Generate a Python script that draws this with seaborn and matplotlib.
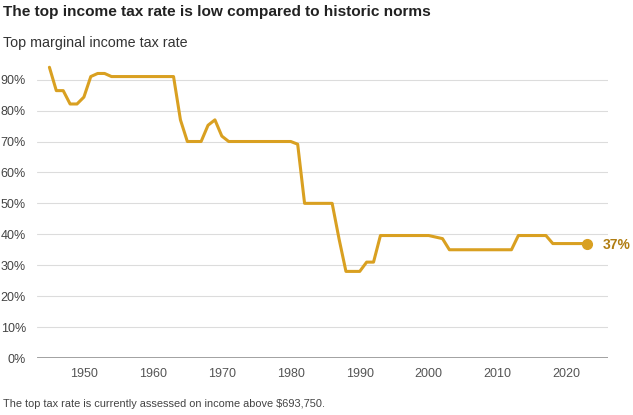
import matplotlib
matplotlib.use("Agg")
import matplotlib.pyplot as plt
import seaborn as sns
import pandas as pd

years = list(range(1945, 2024))
rates = [94, 86.45, 86.45, 82.13, 82.13, 84.36, 91, 92, 92, 91,
         91, 91, 91, 91, 91, 91, 91, 91, 91, 77,
         70, 70, 70, 75.25, 77, 71.75, 70, 70, 70, 70,
         70, 70, 70, 70, 70, 70, 69.125, 50, 50, 50,
         50, 50, 38.5, 28, 28, 28, 31, 31, 39.6, 39.6,
         39.6, 39.6, 39.6, 39.6, 39.6, 39.6, 39.1, 38.6, 35, 35,
         35, 35, 35, 35, 35, 35, 35, 35, 39.6, 39.6,
         39.6, 39.6, 39.6, 37, 37, 37, 37, 37, 37]
ytick_vals = [0, 10, 20, 30, 40, 50, 60, 70, 80, 90]
xtick_vals = [1950, 1960, 1970, 1980, 1990, 2000, 2010, 2020]

title = "The top income tax rate is low compared to historic norms"
subtitle = "Top marginal income tax rate"
footer = "The top tax rate is currently assessed on income above $693,750."

df = pd.DataFrame({"year": years, "rate": rates})

sns.set_theme(style="white")
plt.rcParams['font.family'] = ['Liberation Sans', 'DejaVu Sans']

LINE = "#d9a021"
LABEL = "#b07d12"

fig = plt.figure(figsize=(6.33, 4.15), dpi=100)
ax = fig.add_axes([37/633, 1 - 358/415, (608-37)/633, (358-58)/415])

sns.lineplot(data=df, x="year", y="rate", ax=ax, color=LINE, linewidth=2.2)
last = df.iloc[-1]
ax.plot([last["year"]], [last["rate"]], "o", color=LINE, markersize=7, zorder=5)
ax.annotate(f"{int(last['rate'])}%", (last["year"], last["rate"]),
            xytext=(11, -1), textcoords="offset points", va="center", ha="left",
            color=LABEL, fontsize=10, fontweight="bold", annotation_clip=False)

ax.set_xlim(1943.2, 2026)
ax.set_ylim(0, 97)
ax.set_yticks(ytick_vals)
ax.set_yticklabels([f"{v}%" for v in ytick_vals])
ax.set_xticks(xtick_vals)
ax.set_xticklabels([str(v) for v in xtick_vals])
ax.grid(axis="y", color="#dcdcdc", linewidth=0.8)
ax.grid(axis="x", visible=False)
ax.axhline(0, color="#999999", linewidth=2, zorder=3)
for s in ax.spines.values():
    s.set_visible(False)
ax.tick_params(axis="y", length=0, pad=8, labelsize=9, labelcolor="#444444")
ax.tick_params(axis="x", length=0, pad=7, labelsize=9, labelcolor="#555555")
ax.set_xlabel("")
ax.set_ylabel("")

fig.text(3/633, 1 - 12/415, title, fontsize=11.1, fontweight="bold", color="#222222",
         va="center", ha="left")
fig.text(3/633, 1 - 43/415, subtitle, fontsize=10.3, color="#333333",
         va="center", ha="left")
fig.text(3/633, 1 - 404/415, footer, fontsize=7.9, color="#444444",
         va="center", ha="left")

fig.savefig("out.png", dpi=100)
